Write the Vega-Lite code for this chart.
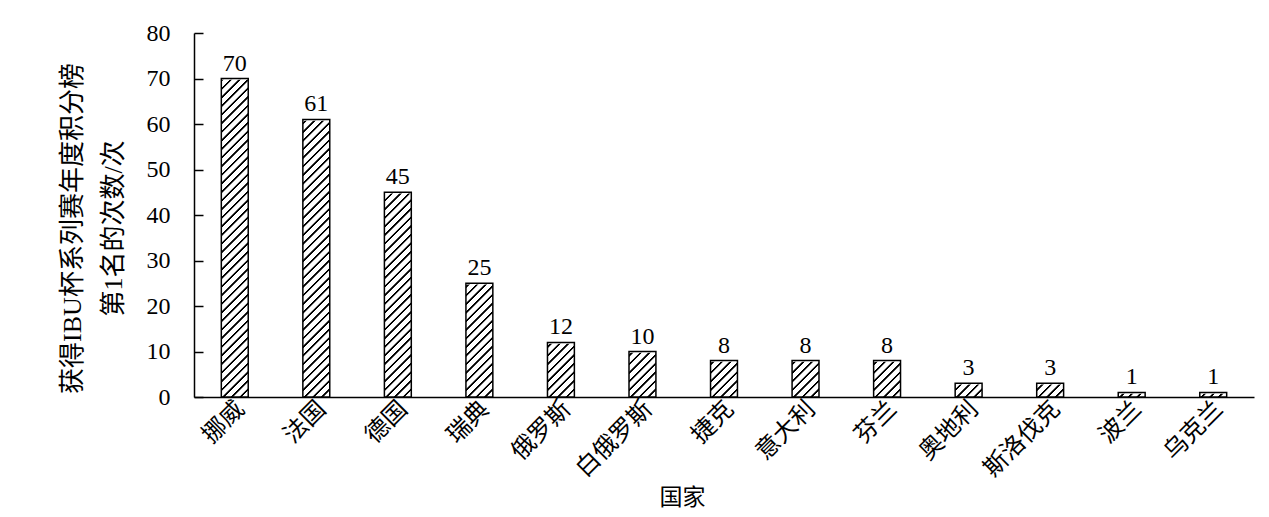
{
  "$schema": "https://vega.github.io/schema/vega-lite/v6.json",
  "width": 1060,
  "height": 364,
  "autosize": "none",
  "padding": {"left": 194, "top": 33, "right": 15, "bottom": 120},
  "background": "white",
  "config": {"view": {"stroke": null}},
  "data": {
    "values": [
      {"country": "挪威", "count": 70},
      {"country": "法国", "count": 61},
      {"country": "德国", "count": 45},
      {"country": "瑞典", "count": 25},
      {"country": "俄罗斯", "count": 12},
      {"country": "白俄罗斯", "count": 10},
      {"country": "捷克", "count": 8},
      {"country": "意大利", "count": 8},
      {"country": "芬兰", "count": 8},
      {"country": "奥地利", "count": 3},
      {"country": "斯洛伐克", "count": 3},
      {"country": "波兰", "count": 1},
      {"country": "乌克兰", "count": 1}
    ]
  },
  "encoding": {
    "x": {
      "field": "country",
      "type": "nominal",
      "sort": null,
      "scale": {"paddingInner": 0.67, "paddingOuter": 0.335},
      "axis": {
        "title": "国家",
        "titleFont": "Noto Sans CJK SC",
        "titleFontSize": 23,
        "titleFontWeight": "normal",
        "titleColor": "black",
        "titleX": 488,
        "titleY": 100,
        "titleBaseline": "middle",
        "titleAlign": "center",
        "domain": true,
        "domainColor": "black",
        "domainWidth": 1.5,
        "ticks": false,
        "labelAngle": -45,
        "labelAlign": "right",
        "labelBaseline": "middle",
        "labelFont": "Noto Sans CJK SC",
        "labelFontSize": 24,
        "labelColor": "black",
        "labelPadding": 8,
        "labelOffset": 6,
        "grid": false
      }
    },
    "y": {
      "field": "count",
      "type": "quantitative",
      "scale": {"domain": [0, 80], "nice": false},
      "axis": {
        "values": [0, 10, 20, 30, 40, 50, 60, 70, 80],
        "title": ["获得IBU杯系列赛年度积分榜", "第1名的次数/次"],
        "titleFont": "Liberation Serif, Noto Sans CJK SC",
        "titleFontSize": 26,
        "titleFontWeight": "normal",
        "titleColor": "black",
        "titleAngle": -90,
        "titleAlign": "center",
        "titleBaseline": "middle",
        "titleLineHeight": 41,
        "titleX": -121.5,
        "titleY": 195,
        "domain": true,
        "domainColor": "black",
        "domainWidth": 1.5,
        "ticks": true,
        "tickSize": -9,
        "tickColor": "black",
        "tickWidth": 1.5,
        "labelFont": "Liberation Serif",
        "labelFontSize": 24,
        "labelColor": "black",
        "labelPadding": 33,
        "grid": false
      }
    }
  },
  "layer": [
    {
      "mark": {
        "type": "bar",
        "stroke": null,
        "fill": {
          "gradient": "linear",
          "x1": 0, "y1": 0, "x2": 0.08683, "y2": 1.175,
          "stops": [
            {"offset":0.0072,"color":"#fff"},{"offset":0.0088,"color":"#000"},{"offset":0.0128,"color":"#000"},{"offset":0.0144,"color":"#fff"},
            {"offset":0.0272,"color":"#fff"},{"offset":0.0288,"color":"#000"},{"offset":0.0328,"color":"#000"},{"offset":0.0344,"color":"#fff"},
            {"offset":0.0472,"color":"#fff"},{"offset":0.0488,"color":"#000"},{"offset":0.0528,"color":"#000"},{"offset":0.0544,"color":"#fff"},
            {"offset":0.0672,"color":"#fff"},{"offset":0.0688,"color":"#000"},{"offset":0.0728,"color":"#000"},{"offset":0.0744,"color":"#fff"},
            {"offset":0.0872,"color":"#fff"},{"offset":0.0888,"color":"#000"},{"offset":0.0928,"color":"#000"},{"offset":0.0944,"color":"#fff"},
            {"offset":0.1072,"color":"#fff"},{"offset":0.1088,"color":"#000"},{"offset":0.1128,"color":"#000"},{"offset":0.1144,"color":"#fff"},
            {"offset":0.1272,"color":"#fff"},{"offset":0.1288,"color":"#000"},{"offset":0.1328,"color":"#000"},{"offset":0.1344,"color":"#fff"},
            {"offset":0.1472,"color":"#fff"},{"offset":0.1488,"color":"#000"},{"offset":0.1528,"color":"#000"},{"offset":0.1544,"color":"#fff"},
            {"offset":0.1672,"color":"#fff"},{"offset":0.1688,"color":"#000"},{"offset":0.1728,"color":"#000"},{"offset":0.1744,"color":"#fff"},
            {"offset":0.1872,"color":"#fff"},{"offset":0.1888,"color":"#000"},{"offset":0.1928,"color":"#000"},{"offset":0.1944,"color":"#fff"},
            {"offset":0.2072,"color":"#fff"},{"offset":0.2088,"color":"#000"},{"offset":0.2128,"color":"#000"},{"offset":0.2144,"color":"#fff"},
            {"offset":0.2272,"color":"#fff"},{"offset":0.2288,"color":"#000"},{"offset":0.2328,"color":"#000"},{"offset":0.2344,"color":"#fff"},
            {"offset":0.2472,"color":"#fff"},{"offset":0.2488,"color":"#000"},{"offset":0.2528,"color":"#000"},{"offset":0.2544,"color":"#fff"},
            {"offset":0.2672,"color":"#fff"},{"offset":0.2688,"color":"#000"},{"offset":0.2728,"color":"#000"},{"offset":0.2744,"color":"#fff"},
            {"offset":0.2872,"color":"#fff"},{"offset":0.2888,"color":"#000"},{"offset":0.2928,"color":"#000"},{"offset":0.2944,"color":"#fff"},
            {"offset":0.3072,"color":"#fff"},{"offset":0.3088,"color":"#000"},{"offset":0.3128,"color":"#000"},{"offset":0.3144,"color":"#fff"},
            {"offset":0.3272,"color":"#fff"},{"offset":0.3288,"color":"#000"},{"offset":0.3328,"color":"#000"},{"offset":0.3344,"color":"#fff"},
            {"offset":0.3472,"color":"#fff"},{"offset":0.3488,"color":"#000"},{"offset":0.3528,"color":"#000"},{"offset":0.3544,"color":"#fff"},
            {"offset":0.3672,"color":"#fff"},{"offset":0.3688,"color":"#000"},{"offset":0.3728,"color":"#000"},{"offset":0.3744,"color":"#fff"},
            {"offset":0.3872,"color":"#fff"},{"offset":0.3888,"color":"#000"},{"offset":0.3928,"color":"#000"},{"offset":0.3944,"color":"#fff"},
            {"offset":0.4072,"color":"#fff"},{"offset":0.4088,"color":"#000"},{"offset":0.4128,"color":"#000"},{"offset":0.4144,"color":"#fff"},
            {"offset":0.4272,"color":"#fff"},{"offset":0.4288,"color":"#000"},{"offset":0.4328,"color":"#000"},{"offset":0.4344,"color":"#fff"},
            {"offset":0.4472,"color":"#fff"},{"offset":0.4488,"color":"#000"},{"offset":0.4528,"color":"#000"},{"offset":0.4544,"color":"#fff"},
            {"offset":0.4672,"color":"#fff"},{"offset":0.4688,"color":"#000"},{"offset":0.4728,"color":"#000"},{"offset":0.4744,"color":"#fff"},
            {"offset":0.4872,"color":"#fff"},{"offset":0.4888,"color":"#000"},{"offset":0.4928,"color":"#000"},{"offset":0.4944,"color":"#fff"},
            {"offset":0.5072,"color":"#fff"},{"offset":0.5088,"color":"#000"},{"offset":0.5128,"color":"#000"},{"offset":0.5144,"color":"#fff"},
            {"offset":0.5272,"color":"#fff"},{"offset":0.5288,"color":"#000"},{"offset":0.5328,"color":"#000"},{"offset":0.5344,"color":"#fff"},
            {"offset":0.5472,"color":"#fff"},{"offset":0.5488,"color":"#000"},{"offset":0.5528,"color":"#000"},{"offset":0.5544,"color":"#fff"},
            {"offset":0.5672,"color":"#fff"},{"offset":0.5688,"color":"#000"},{"offset":0.5728,"color":"#000"},{"offset":0.5744,"color":"#fff"},
            {"offset":0.5872,"color":"#fff"},{"offset":0.5888,"color":"#000"},{"offset":0.5928,"color":"#000"},{"offset":0.5944,"color":"#fff"},
            {"offset":0.6072,"color":"#fff"},{"offset":0.6088,"color":"#000"},{"offset":0.6128,"color":"#000"},{"offset":0.6144,"color":"#fff"},
            {"offset":0.6272,"color":"#fff"},{"offset":0.6288,"color":"#000"},{"offset":0.6328,"color":"#000"},{"offset":0.6344,"color":"#fff"},
            {"offset":0.6472,"color":"#fff"},{"offset":0.6488,"color":"#000"},{"offset":0.6528,"color":"#000"},{"offset":0.6544,"color":"#fff"},
            {"offset":0.6672,"color":"#fff"},{"offset":0.6688,"color":"#000"},{"offset":0.6728,"color":"#000"},{"offset":0.6744,"color":"#fff"},
            {"offset":0.6872,"color":"#fff"},{"offset":0.6888,"color":"#000"},{"offset":0.6928,"color":"#000"},{"offset":0.6944,"color":"#fff"},
            {"offset":0.7072,"color":"#fff"},{"offset":0.7088,"color":"#000"},{"offset":0.7128,"color":"#000"},{"offset":0.7144,"color":"#fff"},
            {"offset":0.7272,"color":"#fff"},{"offset":0.7288,"color":"#000"},{"offset":0.7328,"color":"#000"},{"offset":0.7344,"color":"#fff"},
            {"offset":0.7472,"color":"#fff"},{"offset":0.7488,"color":"#000"},{"offset":0.7528,"color":"#000"},{"offset":0.7544,"color":"#fff"},
            {"offset":0.7672,"color":"#fff"},{"offset":0.7688,"color":"#000"},{"offset":0.7728,"color":"#000"},{"offset":0.7744,"color":"#fff"},
            {"offset":0.7872,"color":"#fff"},{"offset":0.7888,"color":"#000"},{"offset":0.7928,"color":"#000"},{"offset":0.7944,"color":"#fff"},
            {"offset":0.8072,"color":"#fff"},{"offset":0.8088,"color":"#000"},{"offset":0.8128,"color":"#000"},{"offset":0.8144,"color":"#fff"},
            {"offset":0.8272,"color":"#fff"},{"offset":0.8288,"color":"#000"},{"offset":0.8328,"color":"#000"},{"offset":0.8344,"color":"#fff"},
            {"offset":0.8472,"color":"#fff"},{"offset":0.8488,"color":"#000"},{"offset":0.8528,"color":"#000"},{"offset":0.8544,"color":"#fff"},
            {"offset":0.8672,"color":"#fff"},{"offset":0.8688,"color":"#000"},{"offset":0.8728,"color":"#000"},{"offset":0.8744,"color":"#fff"},
            {"offset":0.8872,"color":"#fff"},{"offset":0.8888,"color":"#000"},{"offset":0.8928,"color":"#000"},{"offset":0.8944,"color":"#fff"},
            {"offset":0.9072,"color":"#fff"},{"offset":0.9088,"color":"#000"},{"offset":0.9128,"color":"#000"},{"offset":0.9144,"color":"#fff"}
          ]
        }
      },
      "encoding": {
        "y": {"datum": 80, "type": "quantitative"},
        "y2": {"datum": 0}
      }
    },
    {
      "mark": {"type": "bar", "color": "white", "stroke": "white", "strokeWidth": 2.5},
      "encoding": {
        "y2": {"datum": 80}
      }
    },
    {
      "mark": {"type": "bar", "fillOpacity": 0, "stroke": "black", "strokeWidth": 1.5},
      "encoding": {}
    },
    {
      "mark": {"type": "text", "font": "Liberation Serif", "fontSize": 24, "color": "black", "baseline": "alphabetic", "dy": -8},
      "encoding": {
        "text": {"field": "count", "type": "quantitative"}
      }
    }
  ]
}
